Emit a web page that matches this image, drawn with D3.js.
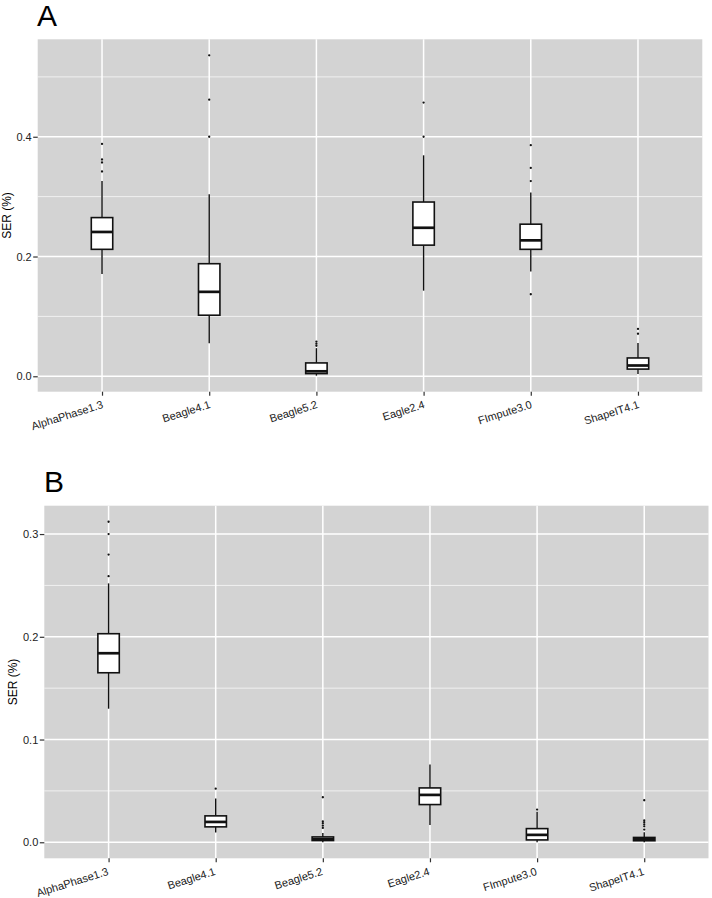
<!DOCTYPE html>
<html>
<head>
<meta charset="utf-8">
<script src="https://cdn.jsdelivr.net/npm/d3@7"></script>
<style>
  body { margin: 0; background: #fff; }
  svg { display: block; font-family: "Liberation Sans", Arial, Helvetica, sans-serif; }
</style>
</head>
<body>
<svg id="chart" width="712" height="898"></svg>
<script>
// ---- Data ----
const categories = ["AlphaPhase1.3", "Beagle4.1", "Beagle5.2", "Eagle2.4", "FImpute3.0", "ShapeIT4.1"];

// Panel A
const aLow    = [0.171, 0.055, 0.001,  0.143, 0.175, 0.004];
const aQ1     = [0.212, 0.102, 0.0045, 0.219, 0.212, 0.012];
const aMedian = [0.241, 0.141, 0.0083, 0.248, 0.227, 0.018];
const aQ3     = [0.265, 0.188, 0.0223, 0.291, 0.254, 0.0306];
const aHigh   = [0.326, 0.304, 0.047,  0.369, 0.307, 0.0557];
const aOutliers = [
  [0.342, 0.357, 0.362, 0.388],
  [0.400, 0.462, 0.536],
  [0.051, 0.0545, 0.058],
  [0.400, 0.457],
  [0.137, 0.326, 0.348, 0.386],
  [0.071, 0.079]
];
const aMajorTicks = [0.0, 0.2, 0.4];
const aMinorTicks = [0.1, 0.3, 0.5];

// Panel B
const bLow    = [0.130, 0.0094, 0.0,    0.0169, 0.0,    0.0];
const bQ1     = [0.165, 0.015,  0.0017, 0.0367, 0.0023, 0.0015];
const bMedian = [0.184, 0.0198, 0.003,  0.0461, 0.0072, 0.003];
const bQ3     = [0.203, 0.0257, 0.0052, 0.0529, 0.0133, 0.0047];
const bHigh   = [0.252, 0.0425, 0.0091, 0.0756, 0.0296, 0.0097];
const bOutliers = [
  [0.259, 0.280, 0.300, 0.312],
  [0.0522],
  [0.014, 0.0162, 0.0185, 0.0204, 0.0438],
  [],
  [0.0318],
  [0.0124, 0.0155, 0.0175, 0.0195, 0.0214, 0.0409]
];
const bMajorTicks = [0.0, 0.1, 0.2, 0.3];
const bMinorTicks = [0.05, 0.15, 0.25];

const yTitle = "SER (%)";

// ---- Drawing ----
const svg = d3.select("#chart");

function panel(opts) {
  const { letter, letterX, letterY, left, right, top, bottom, low, q1, med, q3, high, outliers,
          major, minor, titleX, labelShift } = opts;
  const g = svg.append("g");

  const allVals = [].concat(low, high, ...outliers);
  const mn = d3.min(allVals), mx = d3.max(allVals);
  const pad = (mx - mn) * 0.05;
  const y = d3.scaleLinear().domain([mn - pad, mx + pad]).range([bottom, top]);
  const x = d3.scalePoint().domain(categories).range([left, right]).padding(0.6);
  const step = x.step();
  const boxW = step * 0.2;

  // panel background
  g.append("rect").attr("x", left).attr("y", top)
    .attr("width", right - left).attr("height", bottom - top).attr("fill", "#d3d3d3");

  // minor grid
  g.selectAll(".minor").data(minor).enter().append("line")
    .attr("x1", left).attr("x2", right)
    .attr("y1", d => y(d)).attr("y2", d => y(d))
    .attr("stroke", "#fff").attr("stroke-width", 0.8).attr("stroke-opacity", 0.85);
  // major grid
  g.selectAll(".major").data(major).enter().append("line")
    .attr("x1", left).attr("x2", right)
    .attr("y1", d => y(d)).attr("y2", d => y(d))
    .attr("stroke", "#fff").attr("stroke-width", 1.5);
  g.selectAll(".vgrid").data(categories).enter().append("line")
    .attr("x1", d => x(d)).attr("x2", d => x(d))
    .attr("y1", top).attr("y2", bottom)
    .attr("stroke", "#fff").attr("stroke-width", 1.5);

  // boxes
  categories.forEach((c, i) => {
    const cx = x(c);
    g.append("line").attr("x1", cx).attr("x2", cx)
      .attr("y1", y(q3[i])).attr("y2", y(high[i]))
      .attr("stroke", "#111").attr("stroke-width", 1.4);
    g.append("line").attr("x1", cx).attr("x2", cx)
      .attr("y1", y(q1[i])).attr("y2", y(low[i]))
      .attr("stroke", "#111").attr("stroke-width", 1.4);
    g.append("rect").attr("x", cx - boxW / 2).attr("y", y(q3[i]))
      .attr("width", boxW).attr("height", Math.max(0.5, y(q1[i]) - y(q3[i])))
      .attr("fill", "#fff").attr("stroke", "#111").attr("stroke-width", 1.6);
    g.append("line").attr("x1", cx - boxW / 2).attr("x2", cx + boxW / 2)
      .attr("y1", y(med[i])).attr("y2", y(med[i]))
      .attr("stroke", "#111").attr("stroke-width", 2.7);
    g.selectAll(null).data(outliers[i]).enter().append("circle")
      .attr("cx", cx).attr("cy", d => y(d)).attr("r", 1.15).attr("fill", "#111");
  });

  // y axis
  const yAxis = d3.axisLeft(y).tickValues(major).tickFormat(d3.format(".1f"))
    .tickSize(4.5).tickPadding(1.5);
  const ya = g.append("g").attr("transform", `translate(${left},0)`).call(yAxis);
  ya.select(".domain").remove();
  ya.selectAll(".tick line").attr("stroke", "#333").attr("stroke-width", 1.2);
  ya.selectAll(".tick text").attr("fill", "#222").style("font-size", "11px");

  // x axis
  const xAxis = d3.axisBottom(x).tickSize(4).tickPadding(3);
  const xa = g.append("g").attr("transform", `translate(0,${bottom})`).call(xAxis);
  xa.select(".domain").remove();
  xa.selectAll(".tick line").attr("stroke", "#333").attr("stroke-width", 1.2);
  xa.selectAll(".tick text")
    .attr("fill", "#222").style("font-size", "11px")
    .attr("text-anchor", "end")
    .attr("y", 0)
    .attr("dy", "0")
    .attr("transform", `translate(${labelShift[0]},${labelShift[1]}) rotate(-17.5)`);

  // y title
  g.append("text")
    .attr("transform", `translate(${titleX},${(top + bottom) / 2}) rotate(-90)`)
    .attr("text-anchor", "middle").attr("dy", "0.35em")
    .style("font-size", "12px").attr("fill", "#000").text(yTitle);

  // panel letter
  g.append("text").attr("x", letterX).attr("y", letterY)
    .style("font-size", "30px").attr("fill", "#000").text(letter);
}

panel({
  letter: "A", letterX: 37, letterY: 26,
  left: 37.7, right: 702.3, top: 39.3, bottom: 391.7,
  low: aLow, q1: aQ1, med: aMedian, q3: aQ3, high: aHigh, outliers: aOutliers,
  major: aMajorTicks, minor: aMinorTicks, titleX: 7, labelShift: [1.3, 16]
});

panel({
  letter: "B", letterX: 44, letterY: 492,
  left: 44.3, right: 708.5, top: 505.7, bottom: 858.3,
  low: bLow, q1: bQ1, med: bMedian, q3: bQ3, high: bHigh, outliers: bOutliers,
  major: bMajorTicks, minor: bMinorTicks, titleX: 13, labelShift: [0, 16.3]
});
</script>
</body>
</html>
